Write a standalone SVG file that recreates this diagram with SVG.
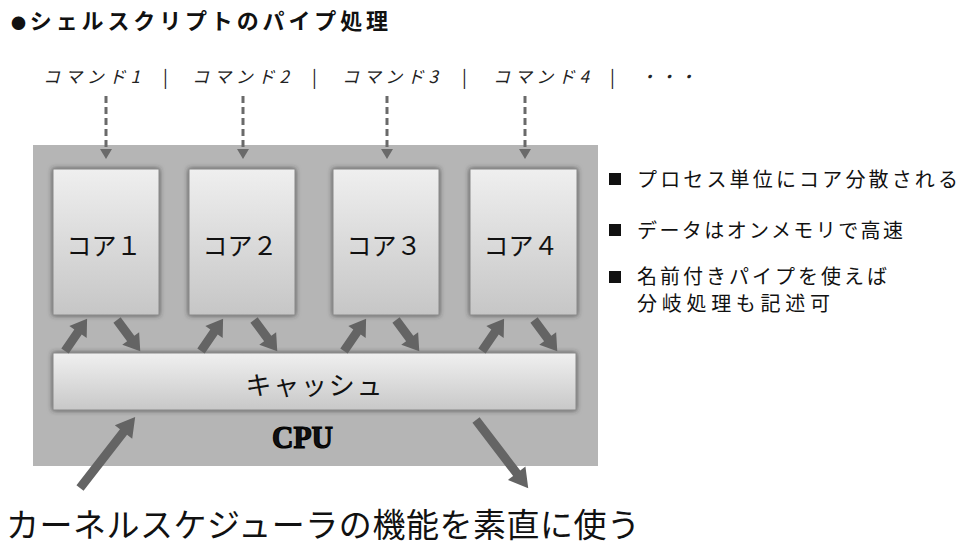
<svg xmlns="http://www.w3.org/2000/svg" width="960" height="548" viewBox="0 0 960 548">
<style>
  text { font-family: "Noto Sans CJK JP", "Noto Sans", sans-serif; fill: #111; }
  .title { font-size: 22px; font-weight: bold; }
  .cmd { font-size: 17px; font-style: italic; fill: #222; }
  .sep { font-size: 18px; fill: #222; }
  .core { fill: url(#gcore); stroke: #888; stroke-width: 1; filter: url(#sh); }
  .coretxt { font-size: 25px; text-anchor: middle; }
  .note { font-size: 20px; fill: #111; }
  .sq { fill: #111; }
  .fat { fill: #646464; }
  .dash { stroke: #6a6a6a; stroke-width: 3; stroke-dasharray: 7 4; fill: none; }
  .head { fill: #6a6a6a; }
</style>
<defs>
  <linearGradient id="gcore" x1="0" y1="0" x2="0" y2="1">
    <stop offset="0" stop-color="#efefef"/>
    <stop offset="1" stop-color="#c6c6c6"/>
  </linearGradient>
  <linearGradient id="gcache" x1="0" y1="0" x2="0" y2="1">
    <stop offset="0" stop-color="#f0f0f0"/>
    <stop offset="1" stop-color="#c8c8c8"/>
  </linearGradient>
  <filter id="sh" x="-10%" y="-10%" width="120%" height="120%">
    <feDropShadow dx="0" dy="0" stdDeviation="2.5" flood-color="#333" flood-opacity="0.8"/>
  </filter>
  <path id="fatS" d="M0,-4.5 L23,-4.5 L23,-10.5 L39,0 L23,10.5 L23,4.5 L0,4.5 Z"/>
</defs>

<g id="title">
  <text class="title" x="11" y="29" textLength="377" lengthAdjust="spacing"><tspan font-size="15">●</tspan>シェルスクリプトのパイプ処理</text>
</g>

<g id="commands">
  <text class="cmd" x="43" y="83" textLength="97" lengthAdjust="spacing">コマンド1</text>
  <text class="sep" x="163" y="84">|</text>
  <text class="cmd" x="192" y="83" textLength="97" lengthAdjust="spacing">コマンド2</text>
  <text class="sep" x="312" y="84">|</text>
  <text class="cmd" x="342" y="83" textLength="96" lengthAdjust="spacing">コマンド3</text>
  <text class="sep" x="462" y="84">|</text>
  <text class="cmd" x="493" y="83" textLength="96" lengthAdjust="spacing">コマンド4</text>
  <text class="sep" x="610" y="84">|</text>
  <text class="cmd" x="640" y="83" textLength="56" lengthAdjust="spacing">・・・</text>
</g>

<g id="cpu">
  <rect x="33" y="145" width="565" height="321" fill="#b5b5b5"/>
  <text x="272" y="448" font-weight="900" font-size="32" textLength="61" lengthAdjust="spacingAndGlyphs" fill="#000" stroke="#000" stroke-width="1.2" style="font-family:'Liberation Serif', serif">CPU</text>
</g>

<g id="core1">
  <rect class="core" x="53" y="169" width="106" height="146"/>
  <text class="coretxt" x="104" y="255">コア１</text>
</g>
<g id="core2">
  <rect class="core" x="189" y="169" width="106" height="146"/>
  <text class="coretxt" x="240" y="255">コア２</text>
</g>
<g id="core3">
  <rect class="core" x="333" y="169" width="106" height="146"/>
  <text class="coretxt" x="384" y="255">コア３</text>
</g>
<g id="core4">
  <rect class="core" x="470" y="169" width="107" height="146"/>
  <text class="coretxt" x="521" y="255">コア４</text>
</g>

<g id="cache">
  <rect x="53" y="353" width="523" height="57" fill="url(#gcache)" stroke="#888" stroke-width="1" filter="url(#sh)"/>
  <text x="314" y="395" font-size="26" text-anchor="middle" textLength="137" lengthAdjust="spacing">キャッシュ</text>
</g>

<g id="connectors">
  <line class="dash" x1="106" y1="96" x2="106" y2="150"/>
  <path class="head" d="M100,149 L112,149 L106,159 Z"/>
  <line class="dash" x1="243" y1="96" x2="243" y2="150"/>
  <path class="head" d="M237,149 L249,149 L243,159 Z"/>
  <line class="dash" x1="387" y1="96" x2="387" y2="150"/>
  <path class="head" d="M381,149 L393,149 L387,159 Z"/>
  <line class="dash" x1="525" y1="96" x2="525" y2="150"/>
  <path class="head" d="M519,149 L531,149 L525,159 Z"/>

  <use href="#fatS" class="fat" transform="translate(65,351) rotate(-55.5)"/>
  <use href="#fatS" class="fat" transform="translate(117,320) rotate(53.4)"/>
  <use href="#fatS" class="fat" transform="translate(201,351) rotate(-55.5)"/>
  <use href="#fatS" class="fat" transform="translate(254,320) rotate(53.4)"/>
  <use href="#fatS" class="fat" transform="translate(344,351) rotate(-55.5)"/>
  <use href="#fatS" class="fat" transform="translate(396,320) rotate(53.4)"/>
  <use href="#fatS" class="fat" transform="translate(482,351) rotate(-55.5)"/>
  <use href="#fatS" class="fat" transform="translate(534,320) rotate(53.4)"/>

  <path class="fat" transform="translate(80,488) rotate(-52.2)" d="M0,-4.5 L71,-4.5 L71,-11 L90,0 L71,11 L71,4.5 L0,4.5 Z"/>
  <path class="fat" transform="translate(476,420) rotate(52.6)" d="M0,-4.5 L67,-4.5 L67,-11 L86,0 L67,11 L67,4.5 L0,4.5 Z"/>
</g>

<g id="notes">
  <rect class="sq" x="609" y="173" width="12" height="12"/>
  <text class="note" x="637" y="187" textLength="321" lengthAdjust="spacing">プロセス単位にコア分散される</text>
  <rect class="sq" x="609" y="224" width="12" height="12"/>
  <text class="note" x="637" y="238" textLength="266" lengthAdjust="spacing">データはオンメモリで高速</text>
  <rect class="sq" x="609" y="271" width="12" height="12"/>
  <text class="note" x="637" y="284" textLength="250" lengthAdjust="spacing">名前付きパイプを使えば</text>
  <text class="note" x="637" y="311" textLength="193" lengthAdjust="spacing">分岐処理も記述可</text>
</g>

<g id="caption">
  <text x="6" y="537" font-size="33" textLength="634" lengthAdjust="spacing">カーネルスケジューラの機能を素直に使う</text>
</g>
</svg>
